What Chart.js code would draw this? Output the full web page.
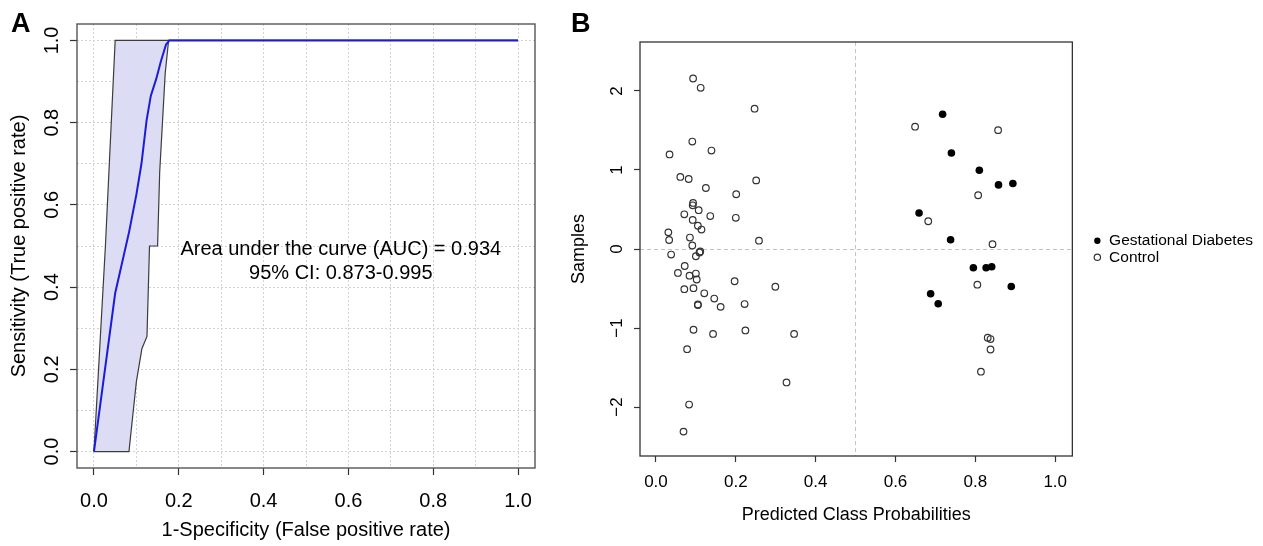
<!DOCTYPE html>
<html>
<head>
<meta charset="utf-8">
<title>ROC and predicted class probabilities</title>
<script src="https://cdn.jsdelivr.net/npm/chart.js@4.4.1/dist/chart.umd.min.js"></script>
<style>
  html, body { margin: 0; padding: 0; background: #fff; }
  #wrap { position: relative; width: 1263px; height: 546px; overflow: hidden; }
  canvas { position: absolute; top: 0; }
  #rocChart { left: 0; }
  #probChart { left: 560px; }
  .panel { position: absolute; font: bold 27px 'Liberation Sans', Arial, sans-serif; line-height: 1; color: #000; }
</style>
</head>
<body>
<div id="wrap">
  <canvas id="rocChart" width="560" height="546"></canvas>
  <canvas id="probChart" width="703" height="546"></canvas>
  <div class="panel" style="left:11px;top:10px">A</div>
  <div class="panel" style="left:571px;top:10px">B</div>
</div>
<script>
// ---- Panel A: ROC curve with confidence band ----
const rocFpr = [0, 0.05, 0.083, 0.1, 0.112, 0.124, 0.134, 0.147, 0.158, 0.17, 0.178, 1.0];
const rocTpr = [0, 0.385, 0.535, 0.625, 0.7, 0.805, 0.865, 0.907, 0.95, 0.99, 1.0, 1.0];

const ciHighFpr = [0, 0.027, 0.05, 0.176, 1.0];
const ciHighTpr = [0, 0.5, 1.0, 1.0, 1.0];
const ciLowFpr  = [0, 0.0825, 0.1, 0.113, 0.125, 0.131, 0.15, 0.155, 0.168, 0.176, 1.0];
const ciLowTpr  = [0, 0, 0.17, 0.25, 0.28, 0.5, 0.5, 0.68, 0.92, 1.0, 1.0];

const gridA       = [0, 0.1, 0.2, 0.3, 0.4, 0.5, 0.6, 0.7, 0.8, 0.9, 1.0];
const tickLabelsA = [0, 0.2, 0.4, 0.6, 0.8, 1.0];
const aucLines    = ['Area under the curve (AUC) = 0.934', '95% CI: 0.873-0.995'];

// ---- Panel B: predicted class probabilities ----
const gdmProb   = [0.718, 0.740, 0.810, 0.858, 0.894, 0.659, 0.738, 0.795, 0.827, 0.841, 0.890, 0.688, 0.707];
const gdmSample = [1.706, 1.215, 0.996, 0.811, 0.829, 0.456, 0.118, -0.237, -0.237, -0.224, -0.474, -0.566, -0.693];

const ctrlProb = [0.093, 0.112, 0.247, 0.091, 0.139, 0.034, 0.061, 0.082, 0.251, 0.125, 0.201, 0.093, 0.092,
  0.107, 0.071, 0.136, 0.200, 0.092, 0.105, 0.114, 0.031, 0.258, 0.085, 0.033, 0.091, 0.111, 0.109, 0.038,
  0.100, 0.072, 0.055, 0.100, 0.084, 0.102, 0.197, 0.299, 0.071, 0.094, 0.121, 0.146, 0.222, 0.162, 0.105,
  0.105, 0.094, 0.224, 0.143, 0.346, 0.078, 0.327, 0.083, 0.069,
  0.649, 0.857, 0.807, 0.682, 0.843, 0.805, 0.831, 0.838, 0.838, 0.814];
const ctrlSample = [2.158, 2.04, 1.776, 1.36, 1.246, 1.197, 0.912, 0.886, 0.868, 0.772, 0.693, 0.583, 0.553,
  0.491, 0.439, 0.417, 0.395, 0.368, 0.294, 0.246, 0.211, 0.105, 0.145, 0.114, 0.044, -0.031, -0.044, -0.070,
  -0.092, -0.215, -0.303, -0.311, -0.338, -0.386, -0.408, -0.478, -0.509, -0.496, -0.561, -0.627, -0.697, -0.732, -0.702,
  -0.71, -1.022, -1.031, -1.075, -1.075, -1.268, -1.689, -1.969, -2.311,
  1.548, 1.504, 0.680, 0.351, 0.061, -0.452, -1.123, -1.140, -1.272, -1.553];

const probTicks   = [0, 0.2, 0.4, 0.6, 0.8, 1.0];
const sampleTicks = [-2, -1, 0, 1, 2];
const cutoffProb   = 0.5;
const cutoffSample = 0;

const FONT = "'Liberation Sans', Arial, Helvetica, sans-serif";
const CLEAR = 'rgba(0,0,0,0)';

const pairs = (xs, ys) => xs.map((x, i) => ({ x, y: ys[i] }));
const inList = (list, v) => list.some(t => Math.abs(t - v) < 1e-9);
const fmtTick = v => (v < 0 ? '\u2212' : '') + Math.abs(v);

// box round the plot region, like R's box()
function frame(color, width) {
  return {
    id: 'frame',
    afterDraw(chart) {
      const { ctx, chartArea: a } = chart;
      ctx.save();
      ctx.strokeStyle = color;
      ctx.lineWidth = width;
      ctx.strokeRect(a.left, a.top, a.right - a.left, a.bottom - a.top);
      ctx.restore();
    }
  };
}

// y tick labels turned 90 degrees (R las = 0)
function yTickLabels(values, format, size, gap) {
  return {
    id: 'yTickLabels',
    afterDraw(chart) {
      const { ctx, chartArea } = chart;
      const scale = chart.scales.y;
      ctx.save();
      ctx.font = `${size}px ${FONT}`;
      ctx.fillStyle = '#000';
      ctx.textAlign = 'center';
      ctx.textBaseline = 'alphabetic';
      values.forEach(v => {
        ctx.save();
        ctx.translate(chartArea.left - gap, scale.getPixelForValue(v));
        ctx.rotate(-Math.PI / 2);
        ctx.fillText(format(v), 0, 0);
        ctx.restore();
      });
      ctx.restore();
    }
  };
}

const aucText = {
  id: 'aucText',
  afterDatasetsDraw(chart) {
    const { ctx, scales: { x, y } } = chart;
    ctx.save();
    ctx.font = `20px ${FONT}`;
    ctx.fillStyle = '#000';
    ctx.textAlign = 'center';
    ctx.textBaseline = 'middle';
    ctx.fillText(aucLines[0], x.getPixelForValue(0.582), y.getPixelForValue(0.491));
    ctx.fillText(aucLines[1], x.getPixelForValue(0.582), y.getPixelForValue(0.434));
    ctx.restore();
  }
};

// ── Panel A ─────────────────────────────────────────────
new Chart(document.getElementById('rocChart'), {
  type: 'line',
  data: {
    datasets: [
      { label: 'ROC', data: pairs(rocFpr, rocTpr), borderColor: '#1c1cd8', borderWidth: 2,
        pointRadius: 0, fill: false, tension: 0 },
      { label: 'CI high', data: pairs(ciHighFpr, ciHighTpr), borderColor: '#3c3c3c', borderWidth: 1.2,
        pointRadius: 0, fill: false, tension: 0 },
      { label: 'CI low', data: pairs(ciLowFpr, ciLowTpr), borderColor: '#3c3c3c', borderWidth: 1.2,
        pointRadius: 0, fill: '-1', backgroundColor: '#dcdcf5', tension: 0 }
    ]
  },
  options: {
    responsive: false, animation: false, events: [],
    layout: { padding: { top: 24, right: 25, left: 0, bottom: 0 } },
    plugins: { legend: { display: false }, tooltip: { enabled: false } },
    scales: {
      x: {
        type: 'linear', min: -0.04, max: 1.04,
        afterBuildTicks: s => { s.ticks = gridA.map(v => ({ value: v })); },
        afterFit: s => { s.height = 78; },
        grid: {
          color: '#d2d2d2', lineWidth: 1, tickLength: 7, tickWidth: 1.2,
          tickColor: c => (c.tick && inList(tickLabelsA, c.tick.value)) ? '#333' : CLEAR
        },
        border: { display: false, dash: [2, 2] },
        ticks: {
          autoSkip: false, maxRotation: 0, padding: 14, color: '#000',
          font: { family: FONT, size: 20 },
          callback: v => inList(tickLabelsA, v) ? v.toFixed(1) : ''
        },
        title: { display: true, text: '1-Specificity (False positive rate)', color: '#000',
                 font: { family: FONT, size: 20 }, padding: { top: 0, bottom: 4 } }
      },
      y: {
        type: 'linear', min: -0.04, max: 1.04,
        afterBuildTicks: s => { s.ticks = gridA.map(v => ({ value: v })); },
        afterFit: s => { s.width = 77; },
        grid: {
          color: '#d2d2d2', lineWidth: 1, tickLength: 7, tickWidth: 1.2,
          tickColor: c => (c.tick && inList(tickLabelsA, c.tick.value)) ? '#333' : CLEAR
        },
        border: { display: false, dash: [2, 2] },
        ticks: { display: false, autoSkip: false },
        title: { display: true, text: 'Sensitivity (True positive rate)', color: '#000',
                 font: { family: FONT, size: 20 }, padding: { top: 7, bottom: 0 } }
      }
    }
  },
  plugins: [frame('#555', 1.4), yTickLabels(tickLabelsA, v => v.toFixed(1), 20, 19), aucText]
});

// ── Panel B ─────────────────────────────────────────────
const probGrid = [...probTicks, cutoffProb].sort((a, b) => a - b);

new Chart(document.getElementById('probChart'), {
  type: 'scatter',
  data: {
    datasets: [
      { label: 'Gestational Diabetes', data: pairs(gdmProb, gdmSample), pointStyle: 'circle',
        pointRadius: 3.8, backgroundColor: '#000', borderColor: '#000', borderWidth: 0 },
      { label: 'Control', data: pairs(ctrlProb, ctrlSample), pointStyle: 'circle',
        pointRadius: 3.3, backgroundColor: CLEAR, borderColor: '#333', borderWidth: 1.2 }
    ]
  },
  options: {
    responsive: false, animation: false, events: [],
    layout: { padding: { top: 42, right: 0, left: 0, bottom: 0 } },
    plugins: {
      tooltip: { enabled: false },
      legend: {
        position: 'right', align: 'center', maxWidth: 220, fullSize: false,
        labels: { usePointStyle: true, boxWidth: 8, boxHeight: 4.5, padding: 1, color: '#000',
                  font: { family: FONT, size: 15.5 } }
      }
    },
    scales: {
      x: {
        type: 'linear', min: -0.04, max: 1.043,
        afterBuildTicks: s => { s.ticks = probGrid.map(v => ({ value: v })); },
        afterFit: s => { s.height = 90; },
        grid: {
          lineWidth: 1, tickLength: 6, tickWidth: 1.2,
          color: c => (c.tick && c.tick.value === cutoffProb) ? '#c4c4c4' : CLEAR,
          tickColor: c => (c.tick && inList(probTicks, c.tick.value)) ? '#333' : CLEAR
        },
        border: { display: false, dash: [4, 3] },
        ticks: {
          autoSkip: false, maxRotation: 0, padding: 10, color: '#000',
          font: { family: FONT, size: 17 },
          callback: v => inList(probTicks, v) ? v.toFixed(1) : ''
        },
        title: { display: true, text: 'Predicted Class Probabilities', color: '#000',
                 font: { family: FONT, size: 18 }, padding: { top: 0, bottom: 19.7 } }
      },
      y: {
        type: 'linear', min: -2.62, max: 2.62,
        afterBuildTicks: s => { s.ticks = sampleTicks.map(v => ({ value: v })); },
        afterFit: s => { s.width = 80; },
        grid: {
          lineWidth: 1, tickLength: 6, tickWidth: 1.2,
          color: c => (c.tick && c.tick.value === cutoffSample) ? '#c4c4c4' : CLEAR,
          tickColor: '#333'
        },
        border: { display: false, dash: [4, 3] },
        ticks: { display: false, autoSkip: false },
        title: { display: true, text: 'Samples', color: '#000',
                 font: { family: FONT, size: 18 }, padding: { top: 8.2, bottom: 0 } }
      },
      spacer: {
        type: 'linear', position: 'right', display: true,
        afterFit: s => { s.width = 20; },
        grid: { display: false, drawTicks: false },
        ticks: { display: false },
        border: { display: false }
      }
    }
  },
  plugins: [frame('#333', 1.3), yTickLabels(sampleTicks, fmtTick, 17, 18)]
});
</script>
</body>
</html>
